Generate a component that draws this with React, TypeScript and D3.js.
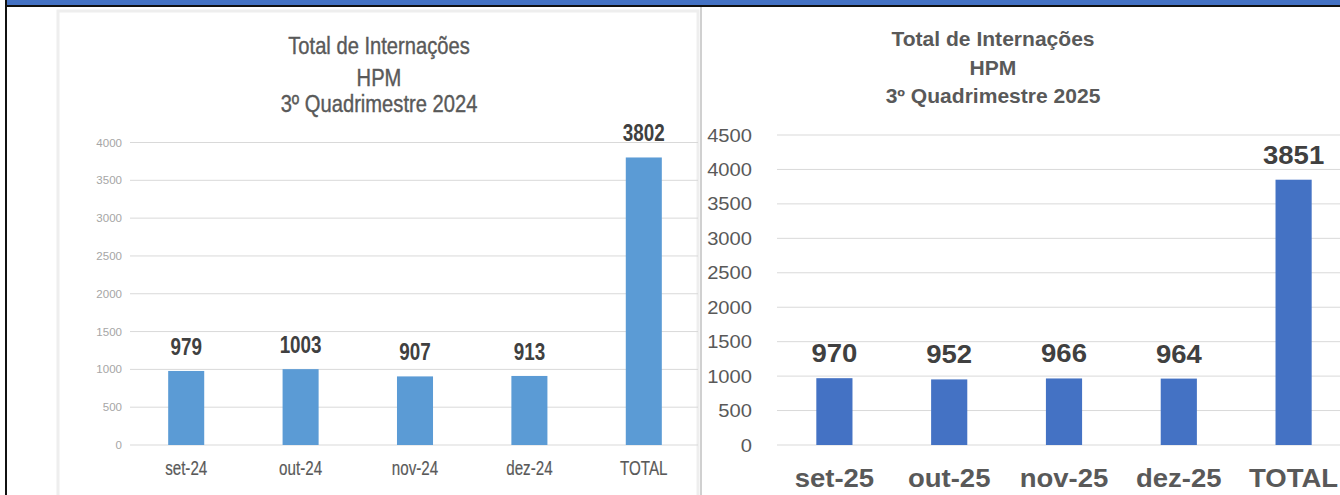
import React from 'react';
import * as d3 from 'd3';

// data
const months2024 = ['set-24', 'out-24', 'nov-24', 'dez-24', 'TOTAL'];
const values2024 = [979, 1003, 907, 913, 3802];
const ticks2024 = [0, 500, 1000, 1500, 2000, 2500, 3000, 3500, 4000];
const title2024 = ['Total de Internações', 'HPM', '3º Quadrimestre 2024'];

const months2025 = ['set-25', 'out-25', 'nov-25', 'dez-25', 'TOTAL'];
const values2025 = [970, 952, 966, 964, 3851];
const ticks2025 = [0, 500, 1000, 1500, 2000, 2500, 3000, 3500, 4000, 4500];
const title2025 = ['Total de Internações', 'HPM', '3º Quadrimestre 2025'];

const W = 1340;
const H = 495;
const FONT = '"Liberation Sans", Arial, sans-serif';

// text that can be stretched, the source image is a squashed screenshot
function SText({x, y, sx = 1, sy = 1, size, weight = 'normal', fill, anchor = 'middle', heavy = 0, children}: any) {
  return (
    <text
      transform={`translate(${x},${y}) scale(${sx},${sy})`}
      textAnchor={anchor}
      fontSize={size}
      fontWeight={weight}
      fill={fill}
      stroke={heavy ? fill : 'none'}
      strokeWidth={heavy}
      fontFamily={FONT}
    >
      {children}
    </text>
  );
}

export default function App() {
  // left chart (2024)
  const xL = d3.scaleBand().domain(months2024).range([129, 701]).paddingInner(0.685).paddingOuter(0.3425);
  const yL = d3.scaleLinear().domain([0, 4000]).range([445, 142.5]);

  // right chart (2025)
  const xR = d3.scaleBand().domain(months2025).range([777, 1351]).paddingInner(0.685).paddingOuter(0.3425);
  const yR = d3.scaleLinear().domain([0, 4500]).range([445, 135]);

  return (
    <div>
      <style>{`body{margin:0;background:#fff}`}</style>
      <svg width={W} height={H} style={{display: 'block'}}>
        <rect x={0} y={0} width={W} height={H} fill="#fff" />

        {/* frame bits */}
        <rect x={58} y={11} width={640} height={495} fill="none" stroke="#eeeeee" strokeWidth={3} />
        <line x1={701} x2={701} y1={7} y2={H} stroke="#d0d0d0" strokeWidth={2} />
        <rect x={6} y={0} width={W - 6} height={5} fill="#4472C4" />
        <rect x={5} y={5} width={W - 5} height={2} fill="#111" />
        <rect x={5} y={0} width={2} height={H} fill="#111" />

        {/* ===== LEFT ===== */}
        <g>
          {title2024.map((t, i) => (
            <SText key={t} x={379} y={[54, 86, 112][i]} sx={0.84} size={24} heavy={0.4} fill="#595959">
              {t}
            </SText>
          ))}
          {ticks2024.map(t => (
            <g key={t}>
              <line x1={130} x2={698} y1={yL(t)} y2={yL(t)} stroke="#d9d9d9" strokeWidth={1} />
              <SText x={122} y={yL(t) + 4} anchor="end" size={11} sx={1.05} fill="#a6a6a6">
                {t}
              </SText>
            </g>
          ))}
          {values2024.map((v, i) => (
            <g key={months2024[i]}>
              <rect
                x={xL(months2024[i])}
                y={yL(v)}
                width={xL.bandwidth()}
                height={yL(0) - yL(v)}
                fill="#5B9BD5"
              />
              <SText
                x={xL(months2024[i])! + xL.bandwidth() / 2}
                y={yL(v) - 16}
                sx={0.82}
                size={23}
                weight="bold"
                fill="#404040"
              >
                {v}
              </SText>
              <SText
                x={xL(months2024[i])! + xL.bandwidth() / 2}
                y={475}
                sx={0.74}
                size={20.5}
                heavy={0.2}
                fill="#595959"
              >
                {months2024[i]}
              </SText>
            </g>
          ))}
        </g>

        {/* ===== RIGHT ===== */}
        <g>
          {title2025.map((t, i) => (
            <SText key={t} x={993} y={[46, 75, 103][i]} sx={1.08} size={19.5} weight="bold" fill="#595959">
              {t}
            </SText>
          ))}
          {ticks2025.map(t => (
            <g key={t}>
              <line x1={777} x2={W} y1={yR(t)} y2={yR(t)} stroke="#d9d9d9" strokeWidth={1} />
              <SText x={752} y={yR(t) + 6.5} anchor="end" size={18} sx={1.12} fill="#595959">
                {t}
              </SText>
            </g>
          ))}
          {values2025.map((v, i) => (
            <g key={months2025[i]}>
              <rect
                x={xR(months2025[i])}
                y={yR(v)}
                width={xR.bandwidth()}
                height={yR(0) - yR(v)}
                fill="#4472C4"
              />
              <SText
                x={xR(months2025[i])! + xR.bandwidth() / 2}
                y={yR(v) - 16}
                sx={1.1}
                size={25}
                weight="bold"
                fill="#404040"
              >
                {v}
              </SText>
              <SText
                x={xR(months2025[i])! + xR.bandwidth() / 2}
                y={487}
                sx={1.1}
                size={25}
                weight="bold"
                fill="#595959"
              >
                {months2025[i]}
              </SText>
            </g>
          ))}
        </g>
      </svg>
    </div>
  );
}
